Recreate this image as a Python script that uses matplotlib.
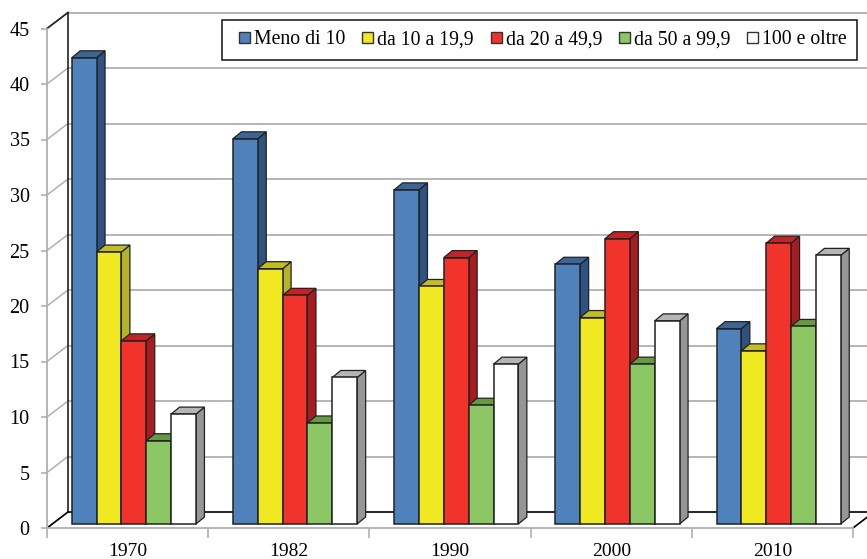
import numpy as np
import matplotlib
matplotlib.use("Agg")
import matplotlib.pyplot as plt
from matplotlib.patches import Patch, Polygon, Rectangle

plt.rcParams['font.family'] = ['Liberation Serif', 'DejaVu Serif']

years = ["1970", "1982", "1990", "2000", "2010"]
labels = ["Meno di 10", "da 10 a 19,9", "da 20 a 49,9", "da 50 a 99,9", "100 e oltre"]
meno_10 = [42.0, 34.7, 30.1, 23.4, 17.6]
da_10 = [24.5, 23.0, 21.4, 18.6, 15.6]
da_20 = [16.5, 20.6, 24.0, 25.7, 25.3]
da_50 = [7.5, 9.1, 10.7, 14.4, 17.8]
oltre_100 = [9.9, 13.2, 14.4, 18.3, 24.2]
series = [meno_10, da_10, da_20, da_50, oltre_100]

# front, top, side
colors = [("#4f81bd", "#3a6595", "#2f5280"),
          ("#f0e922", "#c2bd22", "#b5b32a"),
          ("#f2332b", "#c42226", "#a61c20"),
          ("#8bc764", "#659a42", "#5f8f3a"),
          ("#ffffff", "#b5b5b5", "#969696")]

GRID = "#b0b0b0"
# pixel sizes turned into data units below
PX_X = 161.2
PX_Y = 11.1
WALL_DX = 21 / PX_X
WALL_DY = 16 / PX_Y
BAR_W = 24.85 / PX_X
BAR_START = 24.7 / PX_X
BAR_BASE = 4 / PX_Y
BAR_DX = 8.5 / PX_X
BAR_DY = 7 / PX_Y

fig = plt.figure(figsize=(8.67, 5.59), dpi=100)
ax = fig.add_axes([47 / 867, 31 / 559, 806 / 867, 499.5 / 559])
ax.set_xlim(0, 5)
ax.set_ylim(0, 45)
ax.patch.set_visible(False)

# back wall and side wall
for v in range(0, 50, 5):
    ax.plot([0, WALL_DX], [v, v + WALL_DY], color=GRID, lw=1.1, clip_on=False, zorder=1)
    if v > 0:
        ax.plot([WALL_DX, 5.2], [v + WALL_DY] * 2, color=GRID, lw=1.3, clip_on=False, zorder=1)
ax.plot([WALL_DX, WALL_DX], [WALL_DY, 45 + WALL_DY], color="#222222", lw=1.2, clip_on=False, zorder=1.5)
ax.plot([WALL_DX, 5.2], [WALL_DY, WALL_DY], color="black", lw=1.2, clip_on=False, zorder=1.5)
ax.plot([0, WALL_DX], [0, WALL_DY], color="black", lw=1.2, clip_on=False, zorder=1.5)
ax.plot([0, WALL_DX], [45, 45 + WALL_DY], color="#222222", lw=1.2, clip_on=False, zorder=1.5)
ax.plot([5, 5 + WALL_DX], [0, WALL_DY], color="black", lw=1.2, clip_on=False, zorder=1.5)

# bars, left to right so the next front face covers the previous side
z = 2
for c in range(len(years)):
    for s, vals in enumerate(series):
        x0 = c + BAR_START + s * BAR_W
        x1 = x0 + BAR_W
        top = BAR_BASE + vals[c]
        front, top_col, side = colors[s]
        ax.add_patch(Polygon([(x1, BAR_BASE), (x1 + BAR_DX, BAR_BASE + BAR_DY),
                              (x1 + BAR_DX, top + BAR_DY), (x1, top)],
                             fc=side, ec="#222222", lw=0.9, zorder=z, clip_on=False))
        ax.add_patch(Polygon([(x0, top), (x1, top), (x1 + BAR_DX, top + BAR_DY),
                              (x0 + BAR_DX, top + BAR_DY)],
                             fc=top_col, ec="#222222", lw=0.9, zorder=z + 1, clip_on=False))
        ax.bar(x0, vals[c], width=BAR_W, bottom=BAR_BASE, align="edge",
               color=front, edgecolor="#222222", lw=1.1, zorder=z + 2)
        z += 3

for side in ["top", "right"]:
    ax.spines[side].set_visible(False)
for side in ["left", "bottom"]:
    ax.spines[side].set_color(GRID)
    ax.spines[side].set_linewidth(1.3)

ax.set_yticks(range(0, 50, 5))
ax.tick_params(axis="y", length=4.5, color=GRID, width=1.2, labelsize=14.5, pad=8)
ax.set_xticks(range(6))
ax.set_xticklabels([])
ax.tick_params(axis="x", which="major", length=7, color=GRID, width=1.2)
ax.set_xticks(np.arange(len(years)) + 0.5, minor=True)
ax.set_xticklabels(years, minor=True, fontsize=14)
ax.tick_params(axis="x", which="minor", length=0, pad=10.5)

# legend frame is its own box, the padding differs per side in the original
fig.add_artist(Rectangle((222 / 867, 1 - 60 / 559), 635 / 867, 40 / 559, transform=fig.transFigure,
                         fc="white", ec="#222222", lw=1.2, zorder=900))
handles = [Patch(fc=colors[i][0], ec="#333333", lw=1.0) for i in range(5)]
leg = fig.legend(handles, labels, ncol=5, loc="center left",
                 bbox_to_anchor=(239 / 867, 1 - 40 / 559), bbox_transform=fig.transFigure,
                 fontsize=14.2, frameon=False, borderaxespad=0, borderpad=0,
                 handlelength=0.55, handleheight=0.55, handletextpad=0.2,
                 columnspacing=0.87)
leg.set_zorder(1000)

plt.savefig("out.png", dpi=100)
